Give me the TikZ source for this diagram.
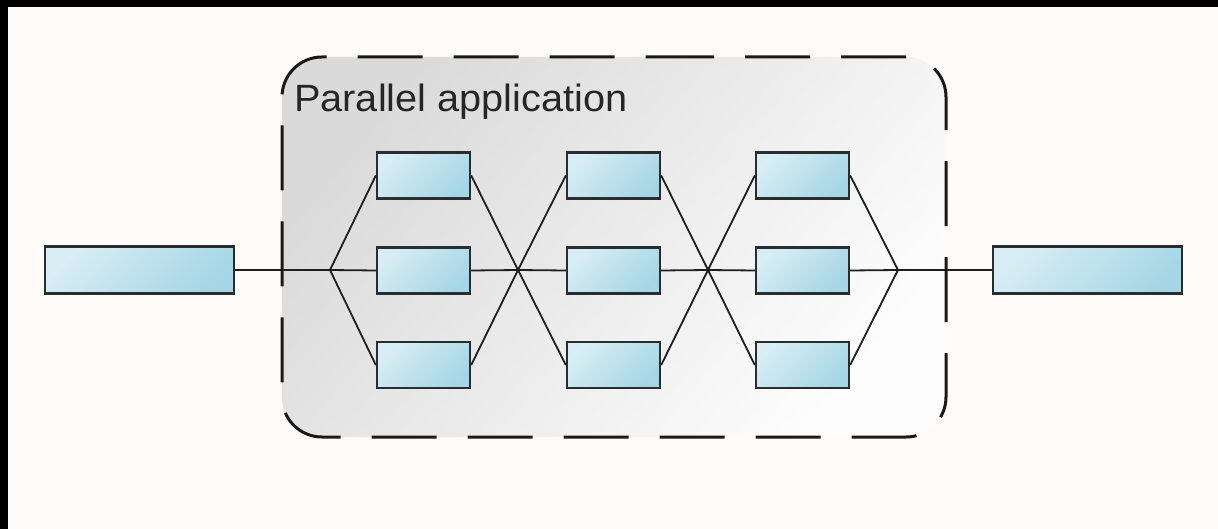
\documentclass[tikz,border=0pt]{standalone}
\usepackage{fontspec}
\setmainfont{Liberation Sans}
\definecolor{bgcol}{RGB}{254,251,248}
\definecolor{boxA}{RGB}{216,237,244}
\definecolor{boxB}{RGB}{166,214,229}
\definecolor{boxline}{RGB}{40,46,48}
\definecolor{wire}{RGB}{30,30,30}
\definecolor{frameA}{RGB}{218,218,218}
\definecolor{frameM}{RGB}{240,240,240}
\definecolor{frameB}{RGB}{253,253,253}
\definecolor{textcol}{RGB}{38,38,38}
\begin{document}
\begin{tikzpicture}[x=1pt,y=-1pt,
  blk/.style={draw=boxline, line width=2.4pt, inner sep=0pt,
    minimum width=93pt, minimum height=46pt,
    top color=boxA, bottom color=boxB, shading angle=45},
  bigblk/.style={blk, minimum width=189pt, minimum height=47pt},
  wireline/.style={draw=wire, line width=1.8pt},
  frameline/.style={draw=black!90, line width=3pt, rounded corners=40pt,
    dash pattern=on 65pt off 31pt}]
\useasboundingbox (0,0) rectangle (1218,529);
\fill[bgcol] (0,0) rectangle (1218,529);
\fill[black] (0,0) rectangle (1218,7);
\fill[black] (0,0) rectangle (8,529);
% frame fill
\shade[rounded corners=40pt, top color=frameA, middle color=frameM,
  bottom color=frameB, shading angle=50]
  (282,57) rectangle (946,437);
\node[anchor=base west, inner sep=0pt, text=textcol,
  font=\fontsize{38}{38}\selectfont] (lbl) at (294,112)
  {\scalebox{1.045}[1]{Parallel application}};
% coordinates
\coordinate (j1) at (330,270);
\coordinate (j2) at (518,270);
\coordinate (j3) at (708,270);
\coordinate (j4) at (898,270);
% blocks
\node[bigblk] (L) at (139.5,270) {};
\node[bigblk] (R) at (1087.5,270) {};
\node[blk] (a1) at (423.5,175.5) {};
\node[blk] (a2) at (423.5,270.5) {};
\node[blk] (a3) at (423.5,365) {};
\node[blk] (b1) at (613.5,175.5) {};
\node[blk] (b2) at (613.5,270.5) {};
\node[blk] (b3) at (613.5,365) {};
\node[blk] (c1) at (802.5,175.5) {};
\node[blk] (c2) at (802.5,270.5) {};
\node[blk] (c3) at (802.5,365) {};
% wires
\draw[wireline] (L.east) -- (j1);
\draw[wireline] (j4) -- (R.west);
\foreach \n in {a1,a2,a3} {\draw[wireline] (j1) -- (\n.west); \draw[wireline] (\n.east) -- (j2);}
\foreach \n in {b1,b2,b3} {\draw[wireline] (j2) -- (\n.west); \draw[wireline] (\n.east) -- (j3);}
\foreach \n in {c1,c2,c3} {\draw[wireline] (j3) -- (\n.west); \draw[wireline] (\n.east) -- (j4);}
% dashed frame
\draw[frameline] (609,57) -- (946,57) -- (946,437) -- (282,437) -- (282,57) -- cycle;
\end{tikzpicture}
\end{document}
